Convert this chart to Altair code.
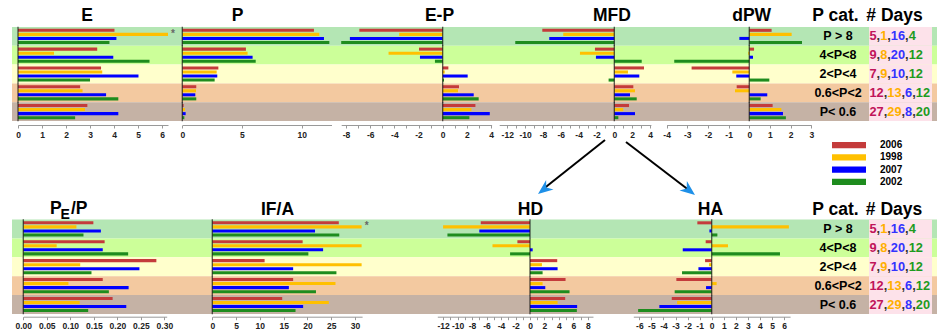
import altair as alt
import pandas as pd

# ---------------------------------------------------------------- data
CATS = ["P > 8", "4<P<8", "2<P<4", "0.6<P<2", "P< 0.6"]
YEARS = ["2006", "1998", "2007", "2002"]

# one row per precipitation category, one column per year (YEARS order)
E = [[4.02, 6.25, 4.10, 3.81],
     [3.30, 1.50, 3.97, 5.48],
     [3.46, 3.51, 5.02, 3.00],
     [2.59, 2.69, 3.67, 4.18],
     [2.89, 2.79, 4.18, 2.38]]
P = [[11.03, 11.48, 11.87, 12.32],
     [5.33, 5.47, 5.89, 6.15],
     [3.02, 2.88, 2.93, 2.71],
     [1.17, 1.15, 1.09, 1.17],
     [0.11, 0.22, 0.28, 0.17]]
EP = [[-6.90, -3.60, -7.68, -8.40],
      [-1.96, -4.48, -1.88, -0.64],
      [0.47, 0.17, 2.07, 0.11],
      [1.35, 1.27, 2.57, 2.98],
      [2.71, 2.38, 3.90, 2.21]]
MFD = [[-8.07, -5.72, -7.29, -11.10],
       [-2.17, -3.85, -2.06, 3.07],
       [3.33, 1.53, 2.80, -0.64],
       [2.13, 2.32, 1.76, 2.51],
       [1.65, 1.00, 2.32, 0.45]]
DPW = [[1.08, 2.05, -0.48, 2.55],
       [0.23, -0.05, 0.18, -3.63],
       [-2.79, -0.82, -0.63, 0.97],
       [-0.61, -0.69, 0.87, 0.55],
       [1.13, 1.55, 1.63, 1.77]]
PEP = [[0.149, 0.113, 0.165, 0.128],
       [0.173, 0.071, 0.169, 0.223],
       [0.283, 0.121, 0.247, 0.145],
       [0.169, 0.096, 0.224, 0.182],
       [0.190, 0.120, 0.219, 0.138]]
IFA = [[26.6, 31.4, 21.6, 26.7],
       [19.0, 31.4, 23.3, 20.2],
       [11.0, 31.4, 17.0, 26.1],
       [17.0, 25.9, 16.1, 21.8],
       [14.7, 24.5, 19.1, 17.5]]
HD = [[-6.80, -12.00, -7.00, -11.40],
      [-1.74, -5.18, 0.37, -2.75],
      [3.76, 1.65, 3.81, 1.74],
      [4.91, 1.74, 2.11, 5.46],
      [4.86, 3.81, 6.51, 6.47]]
HA = [[-1.19, 6.40, -0.19, 0.47],
      [-0.50, 1.35, -2.40, 5.66],
      [-0.55, -0.22, -1.10, -2.46],
      [-2.93, 0.41, -0.47, -3.07],
      [-3.31, -2.87, -4.34, -6.10]]
DAYS = [[5, 1, 16, 4],
        [9, 8, 20, 12],
        [7, 9, 10, 12],
        [12, 13, 6, 12],
        [27, 29, 8, 20]]

# --------------------------------------------------------------- style
FONT = "Liberation Sans"
YEAR_COLORS = ["#C43B3B", "#FFC000", "#0000FF", "#1E8C1E"]
DAY_COLORS = ["#C0145A", "#FFB000", "#3333FF", "#1E9B1E"]
BAND_COLORS = ["#B4E6B4", "#CCFF99", "#FFFFCC", "#F3C9A0", "#C5B2A5"]
PINK = "#FDE2EA"
W, H = 937, 333
TOP_ROWS = [27.0, 121.0]
BOT_ROWS = [219.5, 314.0]
TOP_AXIS_Y = 125.0
BOT_AXIS_Y = 316.7
STEP = 18.8

TOP_PANELS = [
    (E, [0, 6.25], [18.0, 168.0], list(range(0, 7)), "all"),
    (P, [0, 12.5], [182.3, 331.5], [0, 5, 10], "all"),
    (EP, [-8.4, 4.05], [341.2, 491.6], list(range(-8, 5)), "even"),
    (MFD, [-12.9, 4.1], [499.2, 650.9], list(range(-12, 5)), "even"),
    (DPW, [-4, 3], [666.6, 811.3], list(range(-4, 4)), "all"),
]
BOT_PANELS = [
    (PEP, [0, 0.305], [23.3, 166.7], [0, 0.05, 0.1, 0.15, 0.2, 0.25, 0.3], "2f"),
    (IFA, [0, 31.5], [212.3, 362.1], [0, 5, 10, 15, 20, 25, 30], "all"),
    (HD, [-12.8, 8.7], [437.3, 593.0], list(range(-12, 9)), "even"),
    (HA, [-6.5, 6.5], [633.3, 790.1], list(range(-6, 7)), "all"),
]
LABEL_EXPR = {
    "all": "'' + datum.value",
    "even": "datum.value % 2 == 0 ? '' + datum.value : ''",
    "2f": "format(datum.value, '.2f')",
}

cat_df = pd.DataFrame({"cat": CATS, "zero": 0})


def long_df(rows):
    return pd.DataFrame([
        {"cat": c, "year": y, "v": rows[i][j]}
        for i, c in enumerate(CATS) for j, y in enumerate(YEARS)
    ])


def yscale(rows):
    return alt.Scale(domain=CATS, range=rows, paddingInner=0, paddingOuter=0)


def yoff():
    return alt.YOffset("year:N", scale=alt.Scale(domain=YEARS, range=[0, STEP],
                                                 paddingInner=0.25, paddingOuter=0.45))


def year_color():
    return alt.Color("year:N", scale=alt.Scale(domain=YEARS, range=YEAR_COLORS), legend=None)


def panel(rows, dom, rng, ticks, lab, row_px, axis_y):
    xs = alt.Scale(domain=dom, range=rng, nice=False, zero=False)
    bars = alt.Chart(long_df(rows)).mark_bar().encode(
        x=alt.X("v:Q", scale=xs, stack=None,
                axis=alt.Axis(orient="bottom", offset=axis_y - H, values=ticks,
                              labelExpr=LABEL_EXPR[lab], title=None, grid=False)),
        y=alt.Y("cat:N", scale=yscale(row_px), axis=None),
        yOffset=yoff(),
        color=year_color(),
    )
    zero = alt.Chart(cat_df).mark_tick(orient="vertical", size=STEP + 0.4,
                                       thickness=1.3, color="#111").encode(
        x=alt.X("zero:Q", scale=xs, axis=None),
        y=alt.Y("cat:N", scale=yscale(row_px), axis=None),
    )
    return [bars, zero]


def star(rows, dom, rng, row_px, ci, yi):
    xs = alt.Scale(domain=dom, range=rng, nice=False, zero=False)
    df = pd.DataFrame({"cat": [CATS[ci]], "year": [YEARS[yi]], "v": [rows[ci][yi]]})
    return alt.Chart(df).mark_text(text="*", dx=5, dy=0, fontSize=10, color="#666",
                                   font=FONT, fontWeight="bold").encode(
        x=alt.X("v:Q", scale=xs, axis=None),
        y=alt.Y("cat:N", scale=yscale(row_px), axis=None),
        yOffset=yoff(),
    )


def bands(row_px):
    base = alt.Chart(cat_df)
    strip = base.mark_rect().encode(
        y=alt.Y("cat:N", scale=yscale(row_px), axis=None),
        x=alt.value(12), x2=alt.value(W),
        color=alt.Color("cat:N", scale=alt.Scale(domain=CATS, range=BAND_COLORS), legend=None),
    )
    pink = base.mark_rect(color=PINK).encode(
        y=alt.Y("cat:N", scale=yscale(row_px), axis=None),
        x=alt.value(869), x2=alt.value(932),
    )
    return [strip, pink]


def cat_labels(row_px):
    return alt.Chart(cat_df).mark_text(font=FONT, fontWeight="bold", fontSize=12.5,
                                       color="black", baseline="middle").encode(
        x=alt.value(838),
        y=alt.Y("cat:N", scale=yscale(row_px), axis=None),
        text="cat:N",
    )


def day_labels(row_px):
    fs = 12.8
    recs = []
    for i, c in enumerate(CATS):
        em = 0.0
        for k, n in enumerate(DAYS[i]):
            s = str(n)
            recs.append({"cat": c, "t": s, "em": em, "k": str(k)})
            em += 0.556 * len(s)
            if k < 3:
                recs.append({"cat": c, "t": ",", "em": em, "k": "c"})
                em += 0.278
    df = pd.DataFrame(recs)
    return alt.Chart(df).mark_text(font=FONT, fontWeight="bold", fontSize=fs,
                                   align="left", baseline="middle").encode(
        x=alt.X("em:Q", scale=alt.Scale(domain=[0, 1], range=[869.5, 869.5 + fs],
                                        nice=False, zero=False), axis=None),
        y=alt.Y("cat:N", scale=yscale(row_px), axis=None),
        text="t:N",
        color=alt.Color("k:N", scale=alt.Scale(domain=["0", "1", "2", "3", "c"],
                                               range=DAY_COLORS + ["#333333"]), legend=None),
    )


def text(t, x, y, size=17.5, align="center", color="black"):
    return alt.Chart(pd.DataFrame({"t": [t]})).mark_text(
        font=FONT, fontWeight="bold", fontSize=size, align=align, color=color,
        baseline="alphabetic").encode(x=alt.value(x), y=alt.value(y), text="t:N")


layers = []
layers += bands(TOP_ROWS) + bands(BOT_ROWS)
for p in TOP_PANELS:
    layers += panel(*p, TOP_ROWS, TOP_AXIS_Y)
for p in BOT_PANELS:
    layers += panel(*p, BOT_ROWS, BOT_AXIS_Y)
layers.append(star(E, [0, 6.25], [18.0, 168.0], TOP_ROWS, 0, 1))
layers.append(star(IFA, [0, 31.5], [212.3, 362.1], BOT_ROWS, 0, 1))
layers += [cat_labels(TOP_ROWS), cat_labels(BOT_ROWS),
           day_labels(TOP_ROWS), day_labels(BOT_ROWS)]

# panel titles
for t, x in [("E", 87), ("P", 237.5), ("E-P", 439.5), ("MFD", 612), ("dPW", 751.7),
             ("P cat.", 835.5), ("# Days", 894.5)]:
    layers.append(text(t, x, 21))
for t, x in [("IF/A", 277.5), ("HD", 530.5), ("HA", 710.5),
             ("P cat.", 835.5), ("# Days", 894)]:
    layers.append(text(t, x, 215))
layers += [text("P", 50, 214, align="left"),
           text("E", 60.5, 219, size=14, align="left"),
           text("/P", 71, 214, align="left")]

# year legend
leg_df = pd.DataFrame({"year": YEARS})
leg_y = alt.Y("year:N", scale=alt.Scale(domain=YEARS, range=[139, 188], paddingInner=0.5,
                                        paddingOuter=0.25), axis=None)
layers.append(alt.Chart(leg_df).mark_bar().encode(
    x=alt.value(832), x2=alt.value(866), y=leg_y, color=year_color()))
layers.append(alt.Chart(leg_df).mark_text(font=FONT, fontWeight="bold", fontSize=10,
                                          align="left", baseline="middle").encode(
    x=alt.value(880), y=leg_y, text="year:N"))

# arrows from the MFD panel to HD and HA
one = pd.DataFrame({"a": [0]})
ARROW = "M0,0L0.8,2L0,1.4L-0.8,2Z"
for (x0, y0, x1, y1, ang) in [(605, 140, 542, 190, 232), (626, 142, 690, 191, 128)]:
    layers.append(alt.Chart(one).mark_rule(color="black", strokeWidth=2).encode(
        x=alt.value(x0), y=alt.value(y0), x2=alt.value(x1), y2=alt.value(y1)))
tips = [(538, 194, 232), (695, 195, 128)]
for (x, y, ang) in tips:
    layers.append(alt.Chart(one).mark_point(shape=ARROW, size=225, angle=ang, filled=True,
                                            color="#1E90E8", opacity=1, strokeWidth=0).encode(
        x=alt.value(x), y=alt.value(y)))

chart = alt.layer(*layers).resolve_scale(
    x="independent", y="independent", yOffset="independent", color="independent"
).properties(
    width=W, height=H, padding=0, autosize=alt.AutoSizeParams(type="none")
).configure_view(stroke=None).configure_axis(
    labelFont=FONT, labelFontSize=8.5, labelFontWeight="bold", labelColor="#222",
    domainColor="#999", tickColor="#999", tickSize=3, labelPadding=2,
    labelOverlap=False, labelFlush=False, grid=False,
)

chart.save("out.html", embed_options={"renderer": "svg", "actions": False})
